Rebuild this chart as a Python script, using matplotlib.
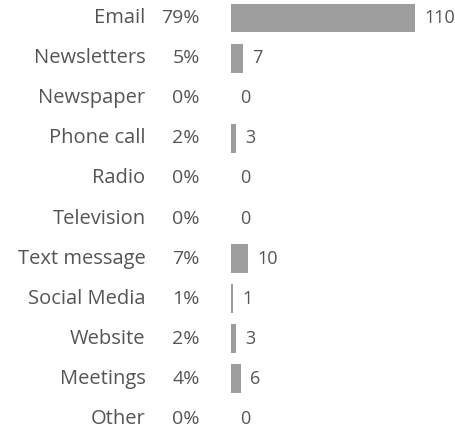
import matplotlib
matplotlib.use("Agg")
from matplotlib import pyplot as plt

# data
categories = ["Email", "Newsletters", "Newspaper", "Phone call", "Radio", "Television",
              "Text message", "Social Media", "Website", "Meetings", "Other"]
counts = [110, 7, 0, 3, 0, 0, 10, 1, 3, 6, 0]
percents = ["79%", "5%", "0%", "2%", "0%", "0%", "7%", "1%", "2%", "4%", "0%"]

plt.rcParams['font.family'] = ['Open Sans', 'DejaVu Sans']
text_color = "#555555"
bar_color = "#9e9e9e"

fig = plt.figure(figsize=(4.56, 4.32), dpi=100)
ax = fig.add_axes([231 / 456, 0, 225 / 456, 1])

ypos = list(range(len(categories)))
ax.barh(ypos, counts, height=0.72, color=bar_color)
ax.set_xlim(0, 225 / (184 / 110))
ax.set_ylim((432 - 18) / 40.1, -18 / 40.1)

for y, cat, pct, c in zip(ypos, categories, percents, counts):
    ax.annotate(cat, (0, y), xytext=(-61.5, 0), textcoords="offset points",
                ha="right", va="center", fontsize=14.5, color=text_color, annotation_clip=False)
    ax.annotate(pct, (0, y), xytext=(-22.5, 0), textcoords="offset points",
                ha="right", va="center", fontsize=14, color=text_color, annotation_clip=False)
    ax.annotate(str(c), (c, y), xytext=(6.8, 0), textcoords="offset points",
                ha="left", va="center", fontsize=13, color=text_color, annotation_clip=False)

ax.axis("off")
fig.savefig("out.png", dpi=100)
plt.close()
